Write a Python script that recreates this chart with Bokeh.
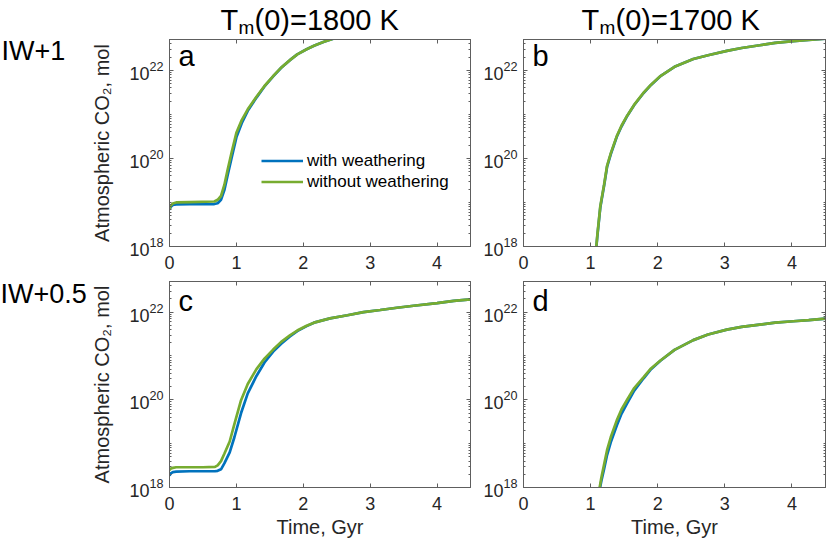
from bokeh.plotting import figure
from bokeh.models import (Range1d, LogAxis, LinearAxis, FixedTicker,
                          Legend, LegendItem, CustomJSTickFormatter, Label)
from bokeh.core.properties import value
from bokeh.layouts import column, row
from bokeh.embed import file_html
from bokeh.resources import INLINE

# ---------------- data ----------------
# Panel a: IW+1, Tm(0)=1800 K
t_a = [0, 0.02, 0.05, 0.1, 0.3, 0.67, 0.72, 0.77, 0.82, 0.87, 0.93, 1.0, 1.08,
       1.17, 1.3, 1.42, 1.55, 1.67, 1.8, 1.91, 2.05, 2.16, 2.3, 2.48, 2.7, 3.0,
       3.5, 4.0, 4.5]
with_a = [6.8e18, 8.0e18, 8.8e18, 9.0e18, 9.1e18, 9.2e18, 9.6e18, 1.15e19,
          1.9e19, 4.2e19, 1.05e20, 3.0e20, 6.3e20, 1.2e21, 2.4e21, 4.3e21,
          7.3e21, 1.14e22, 1.7e22, 2.3e22, 3.0e22, 3.6e22, 4.4e22, 5.4e22,
          6.6e22, 8.5e22, 1.2e23, 1.6e23, 2.0e23]
without_a = [7.2e18, 8.5e18, 9.5e18, 1.0e19, 1.02e19, 1.05e19, 1.15e19, 1.4e19,
             2.5e19, 5.6e19, 1.4e20, 3.8e20, 7.4e20, 1.3e21, 2.5e21, 4.4e21,
             7.4e21, 1.15e22, 1.7e22, 2.3e22, 3.0e22, 3.6e22, 4.4e22, 5.4e22,
             6.6e22, 8.5e22, 1.2e23, 1.6e23, 2.0e23]

# Panel b: IW+1, Tm(0)=1700 K
t_b = [1.06, 1.085, 1.1, 1.145, 1.2, 1.245, 1.3, 1.39, 1.46, 1.54, 1.65, 1.79,
       1.9, 2.04, 2.25, 2.53, 2.75, 3.03, 3.25, 3.52, 3.75, 4.02, 4.25, 4.5]
with_b = [1.9e17, 9.5e17, 1.7e18, 7.8e18, 2.35e19, 6.4e19, 1.24e20, 3.1e20,
          5.3e20, 8.9e20, 1.63e21, 3.05e21, 4.65e21, 7.35e21, 1.2e22, 1.8e22,
          2.2e22, 2.75e22, 3.2e22, 3.7e22, 4.2e22, 4.6e22, 4.9e22, 5.2e22]
without_b = [2.0e17, 1.0e18, 1.8e18, 8.3e18, 2.5e19, 6.8e19, 1.3e20, 3.2e20,
             5.5e20, 9.1e20, 1.66e21, 3.1e21, 4.7e21, 7.4e21, 1.2e22, 1.8e22,
             2.2e22, 2.75e22, 3.2e22, 3.7e22, 4.2e22, 4.6e22, 4.9e22, 5.2e22]

# Panel c: IW+0.5, Tm(0)=1800 K
t_c = [0, 0.02, 0.05, 0.1, 0.3, 0.5, 0.68, 0.72, 0.77, 0.82, 0.9, 0.97, 1.07,
       1.17, 1.3, 1.42, 1.55, 1.67, 1.8, 1.91, 2.05, 2.16, 2.4, 2.66, 2.9, 3.15,
       3.4, 3.65, 4.0, 4.25, 4.5]
with_c = [1.86e18, 2.1e18, 2.25e18, 2.3e18, 2.35e18, 2.35e18, 2.35e18, 2.4e18,
          2.6e18, 3.55e18, 6.3e18, 1.4e19, 5.0e19, 1.4e20, 3.5e20, 7.1e20,
          1.26e21, 1.9e21, 2.8e21, 3.7e21, 4.8e21, 5.75e21, 7.2e21, 8.5e21,
          1.0e22, 1.12e22, 1.26e22, 1.4e22, 1.6e22, 1.8e22, 1.95e22]
without_c = [2.5e18, 2.7e18, 2.8e18, 2.9e18, 2.9e18, 2.9e18, 2.95e18, 3.2e18,
             4.0e18, 5.9e18, 1.12e19, 2.8e19, 9.8e19, 2.3e20, 5.0e20, 8.7e20,
             1.4e21, 2.1e21, 2.95e21, 3.8e21, 4.9e21, 5.75e21, 7.2e21, 8.5e21,
             1.0e22, 1.12e22, 1.26e22, 1.4e22, 1.6e22, 1.8e22, 1.95e22]

# Panel d: IW+0.5, Tm(0)=1700 K
t_d = [1.11, 1.135, 1.16, 1.2, 1.245, 1.3, 1.39, 1.46, 1.54, 1.65, 1.79, 1.9,
       2.04, 2.25, 2.53, 2.75, 3.03, 3.25, 3.52, 3.75, 4.02, 4.25, 4.5]
with_d = [2.0e17, 8.9e17, 1.41e18, 2.6e18, 5.5e18, 1.07e19, 2.6e19, 4.8e19,
          8.1e19, 1.62e20, 3.1e20, 5.0e20, 7.8e20, 1.38e21, 2.3e21, 3.1e21,
          4.0e21, 4.6e21, 5.2e21, 5.75e21, 6.2e21, 6.6e21, 7.1e21]
without_d = [2.5e17, 1.0e18, 1.66e18, 3.3e18, 7.1e18, 1.4e19, 3.4e19, 6.0e19,
             9.8e19, 1.86e20, 3.3e20, 5.2e20, 7.9e20, 1.38e21, 2.3e21, 3.1e21,
             4.0e21, 4.6e21, 5.2e21, 5.75e21, 6.2e21, 6.6e21, 7.1e21]

x_ticks = [0, 1, 2, 3, 4]
y_major = [1e18, 1e20, 1e22]
y_minor = [m * 10.0 ** e for e in range(17, 23) for m in range(1, 10)
           if m * 10.0 ** e not in y_major]

col_titles = ["1800", "1700"]
row_titles = ["IW+1", "IW+0.5"]
panel_letters = ["a", "b", "c", "d"]
legend_labels = ["with weathering", "without weathering"]

# ---------------- styling ----------------
FONT = "Liberation Sans"
TXT = "#262626"
AXC = "#5e5e5e"
BLUE = "#0072BD"
GREEN = "#77AC30"
FRAME_W = 302


def mirror_axis(cls, ticker):
    return cls(ticker=ticker,
               formatter=CustomJSTickFormatter(code="return ''"),
               major_label_text_font_size="1px", major_label_text_alpha=0,
               major_label_standoff=0,
               major_tick_in=4, major_tick_out=0, minor_tick_in=2,
               minor_tick_out=0, axis_line_color=AXC,
               major_tick_line_color=AXC, minor_tick_line_color=AXC)


def make_panel(tt, yb, yg, left, right, top, frame_h, bottom, ylabel, xlabel):
    w = left + FRAME_W + right
    h = top + frame_h + bottom
    p = figure(width=w, height=h, y_axis_type="log",
               x_range=Range1d(0, 4.5), y_range=Range1d(1e18, 5e22),
               output_backend="svg", toolbar_location=None,
               min_border_left=left, min_border_right=right,
               min_border_top=top, min_border_bottom=bottom)
    p.grid.visible = False
    p.outline_line_color = AXC
    p.outline_line_width = 1
    p.background_fill_color = "white"
    p.border_fill_color = "white"

    xb = p.below[0]
    yl = p.left[0]
    xb.ticker = FixedTicker(ticks=x_ticks)
    yl.ticker = FixedTicker(ticks=y_major, minor_ticks=y_minor)
    for ax in (xb, yl):
        ax.axis_line_color = AXC
        ax.major_tick_line_color = AXC
        ax.minor_tick_line_color = AXC
        ax.major_tick_in = 4
        ax.major_tick_out = 0
        ax.minor_tick_in = 2
        ax.minor_tick_out = 0
        ax.major_label_text_font = FONT
        ax.major_label_text_font_size = "18px"
        ax.major_label_text_color = TXT
        ax.axis_label_text_font = FONT
        ax.axis_label_text_font_size = "20px"
        ax.axis_label_text_font_style = "normal"
        ax.axis_label_text_color = TXT
    xb.major_label_standoff = 9
    yl.major_label_standoff = 6

    if ylabel:
        yl.axis_label = "Atmospheric CO\u2082, mol"
        yl.axis_label_standoff = 13
    if xlabel:
        xb.axis_label = "Time, Gyr"
        xb.axis_label_standoff = 3

    p.add_layout(mirror_axis(LogAxis, FixedTicker(ticks=y_major,
                                                  minor_ticks=y_minor)), "right")
    p.add_layout(mirror_axis(LinearAxis, FixedTicker(ticks=x_ticks)), "above")

    rb = p.line(tt, yb, line_color=BLUE, line_width=2.7)
    rg = p.line(tt, yg, line_color=GREEN, line_width=2.7)
    return p, rb, rg


def strip(w, h):
    s = figure(width=w, height=h, x_range=Range1d(0, w), y_range=Range1d(h, 0),
               x_axis_location=None, y_axis_location=None,
               output_backend="svg", toolbar_location=None,
               min_border=0, outline_line_color=None)
    s.grid.visible = False
    s.background_fill_color = "white"
    s.border_fill_color = "white"
    return s


def letter(p, txt, x, y):
    # y is the vertical middle of the text, measured up from the frame bottom
    p.add_layout(Label(x=x, y=y, x_units="screen", y_units="screen", text=txt,
                       text_font=FONT, text_font_size="29px",
                       text_color="black", text_baseline="middle"))


def stext(s, x, y, txt, size):
    s.text(x=[x], y=[y], text=[txt], text_font=value(FONT),
           text_font_size=size, text_color="black", text_baseline="middle")


# ---- top strip with column titles (y = middle of text, px from top) ----
top = strip(830, 36)
for temp, x0 in zip(col_titles, [220, 581]):
    stext(top, x0, 19, "T", "29px")
    stext(top, x0 + 18, 26.5, "m", "19px")
    stext(top, x0 + 34, 19, "(0)=" + temp + " K", "29px")

# ---- row-label strips ----
left1 = strip(88, 240)
stext(left1, 1, 13.5, row_titles[0], "27px")
left2 = strip(88, 266)
stext(left2, 0, 15.5, row_titles[1], "27px")

# ---- panels ----
pa, rba, rga = make_panel(t_a, with_a, without_a, 80, 5, 3, 207, 30, True, False)
pb, _, _ = make_panel(t_b, with_b, without_b, 48, 5, 3, 207, 30, False, False)
pc, _, _ = make_panel(t_c, with_c, without_c, 80, 5, 5, 206, 55, True, True)
pd, _, _ = make_panel(t_d, with_d, without_d, 48, 5, 5, 206, 55, False, True)

letter(pa, panel_letters[0], 9, 191)
letter(pb, panel_letters[1], 9, 191)
letter(pc, panel_letters[2], 9, 187)
letter(pd, panel_letters[3], 9, 187)

leg = Legend(items=[LegendItem(label=legend_labels[0], renderers=[rba]),
                    LegendItem(label=legend_labels[1], renderers=[rga])],
             location=(92, 54), glyph_width=42, glyph_height=21,
             label_height=21, label_standoff=4, padding=0, margin=0,
             spacing=0, border_line_color=None, background_fill_alpha=0,
             label_text_font=FONT, label_text_font_size="17px",
             label_text_color="black")
pa.add_layout(leg, "center")

layout = column(top, row(left1, pa, pb), row(left2, pc, pd))
open("out.html", "w").write(file_html(layout, INLINE))
